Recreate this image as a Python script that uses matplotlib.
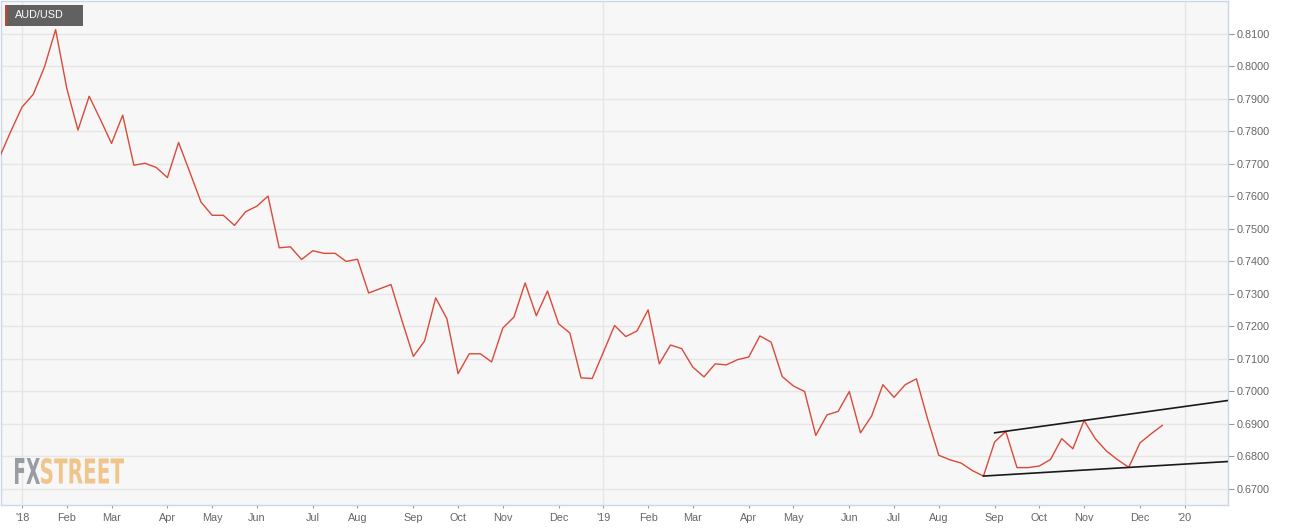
import numpy as np
import pandas as pd
import matplotlib
matplotlib.use("Agg")
import matplotlib.pyplot as plt
from matplotlib.textpath import TextPath
from matplotlib.patches import PathPatch, Rectangle
from matplotlib.font_manager import FontProperties
from matplotlib.transforms import Affine2D

# AUD/USD weekly closes (Fridays)
start = "2017-12-22"
closes = [0.7721, 0.7800, 0.7874, 0.7913, 0.7997, 0.8112, 0.7931, 0.7803, 0.7907, 0.7836,
          0.7762, 0.7849, 0.7695, 0.7701, 0.7688, 0.7657, 0.7765, 0.7674, 0.7582, 0.7541,
          0.7541, 0.7510, 0.7552, 0.7569, 0.7600, 0.7441, 0.7444, 0.7405, 0.7432, 0.7424,
          0.7424, 0.7399, 0.7406, 0.7302, 0.7315, 0.7328, 0.7215, 0.7107, 0.7154, 0.7287,
          0.7223, 0.7054, 0.7115, 0.7115, 0.7090, 0.7194, 0.7228, 0.7333, 0.7232, 0.7308,
          0.7207, 0.7179, 0.7041, 0.7039, 0.7120, 0.7202, 0.7168, 0.7185, 0.7250, 0.7084,
          0.7142, 0.7131, 0.7074, 0.7044, 0.7084, 0.7081, 0.7097, 0.7105, 0.7170, 0.7151,
          0.7045, 0.7016, 0.6999, 0.6864, 0.6927, 0.6938, 0.6999, 0.6872, 0.6924, 0.7020,
          0.6981, 0.7020, 0.7038, 0.6915, 0.6803, 0.6789, 0.6779, 0.6756, 0.6739, 0.6844,
          0.6876, 0.6765, 0.6765, 0.6770, 0.6790, 0.6854, 0.6823, 0.6910, 0.6854, 0.6816,
          0.6789, 0.6766, 0.6841, 0.6869, 0.6895]
dates = pd.date_range(start, periods=len(closes), freq="W-FRI")

# channel lines
upper_dates = ["2019-09-06", "2020-01-31"]
upper_vals = [0.6872, 0.6972]
lower_dates = ["2019-08-30", "2020-01-31"]
lower_vals = [0.6739, 0.6784]

y_ticks = [0.67, 0.68, 0.69, 0.70, 0.71, 0.72, 0.73, 0.74, 0.75, 0.76, 0.77, 0.78, 0.79, 0.80, 0.81]

W, H = 1299, 530
fig = plt.figure(figsize=(W / 100, H / 100), dpi=100)
ax = fig.add_axes([1 / W, 25 / H, 1227 / W, 504 / H])
ax.set_facecolor("#f7f7f7")

ax.plot(dates, closes, color="#d94a3a", lw=1.0, zorder=3)
ax.plot(pd.to_datetime(upper_dates), upper_vals, color="#1a1a1a", lw=1.2, zorder=4)
ax.plot(pd.to_datetime(lower_dates), lower_vals, color="#1a1a1a", lw=1.2, zorder=4)

ax.set_xlim(pd.Timestamp("2017-12-22 19:00"), pd.Timestamp("2020-01-30 03:00"))
ax.set_ylim(0.665, 0.820)

# x ticks at the first weekly point of every month
weeks = pd.Series(pd.date_range(start, "2020-01-31", freq="W-FRI"))
firsts = weeks.groupby([weeks.dt.year, weeks.dt.month]).first()
firsts = firsts[(firsts >= "2018-01-01") & (firsts <= "2020-01-10")]
labels = [("'" + d.strftime("%y")) if d.month == 1 else d.strftime("%b") for d in firsts]
ax.set_xticks(list(firsts))
ax.set_xticklabels(labels)
for d in firsts:
    if d.month == 1:
        ax.axvline(d, color="#e6e6e6", lw=1, zorder=1)

ax.yaxis.tick_right()
ax.set_yticks(y_ticks)
ax.set_yticklabels(["%.4f" % v for v in y_ticks])
ax.grid(axis="y", color="#e6e6e6", lw=1, zorder=1)
ax.set_axisbelow(True)

for s in ax.spines.values():
    s.set_color("#ccd6eb")
    s.set_linewidth(1)
ax.tick_params(axis="y", length=4, width=0.8, color="#999999", pad=2,
               labelsize=7.8, labelcolor="#666666")
ax.tick_params(axis="x", length=2, width=0.8, color="#999999", pad=4,
               labelsize=7.8, labelcolor="#666666")
for t in ax.get_xticklabels() + ax.get_yticklabels():
    t.set_family("Liberation Sans")

# AUD/USD tag
fig.add_artist(Rectangle((5 / W, (H - 26) / H), 78 / W, 21 / H, transform=fig.transFigure,
                         color="#616161", lw=0))
fig.add_artist(Rectangle((5 / W, (H - 26) / H), 2 / W, 21 / H, transform=fig.transFigure,
                         color="#d0402c", lw=0))
fig.text(15 / W, (H - 15.5) / H, "AUD/USD", color="white", fontsize=7.8, va="center",
         family="Liberation Sans")

# FXSTREET watermark
def logo_part(txt, x0, x1, color):
    tp = TextPath((0, 0), txt, size=1, prop=FontProperties(family="DejaVu Sans", weight="bold"))
    bb = tp.get_extents()
    y0, y1 = 458, 484
    tr = (Affine2D().translate(-bb.x0, -bb.y0)
          .scale((x1 - x0) / bb.width, (y1 - y0) / bb.height)
          .translate(x0, H - y1).scale(1 / W, 1 / H))
    fig.add_artist(PathPatch(tr.transform_path(tp), facecolor=color, lw=0,
                             transform=fig.transFigure))

logo_part("FX", 15, 40, "#9a9ca4")
logo_part("STREET", 41, 124, "#f0c48a")

fig.savefig("out.png", dpi=100, facecolor="white")
